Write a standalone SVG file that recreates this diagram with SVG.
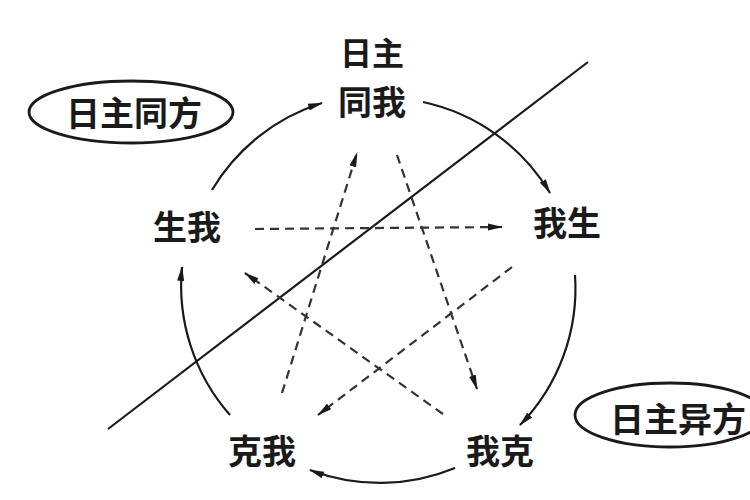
<svg xmlns="http://www.w3.org/2000/svg" width="750" height="500" viewBox="0 0 750 500">
<style>
.lbl{font-family:"Noto Sans CJK SC","Noto Sans CJK JP",sans-serif;font-weight:bold;fill:#1a1a1a;text-anchor:middle}
.big{font-size:34px}
.solid{fill:none;stroke:#1a1a1a;stroke-width:2.2}
.dash{fill:none;stroke:#333;stroke-width:2.2;stroke-dasharray:9 6}
.oval{fill:none;stroke:#1a1a1a;stroke-width:2.8}
</style>
<defs>
<marker id="arr" markerUnits="userSpaceOnUse" markerWidth="16" markerHeight="10" refX="14" refY="5" orient="auto">
<path d="M0,1.5 L15,5 L0,8.5 z" fill="#1a1a1a"/>
</marker>
</defs>
<rect width="750" height="500" fill="#ffffff"/>
<g id="connectors">
<line class="solid" x1="108" y1="429" x2="588" y2="62"/>
<path class="solid" d="M212,190 A196,196 0 0 1 322,103" marker-end="url(#arr)"/>
<path class="solid" d="M423,102 A196,196 0 0 1 550,193" marker-end="url(#arr)"/>
<path class="solid" d="M575,275 A196,196 0 0 1 520,425" marker-end="url(#arr)"/>
<path class="solid" d="M455,468 A196,196 0 0 1 310,470" marker-end="url(#arr)"/>
<path class="solid" d="M230,415 A196,196 0 0 1 182,267" marker-end="url(#arr)"/>
<line class="dash" x1="255" y1="229" x2="502" y2="227" marker-end="url(#arr)"/>
<line class="dash" x1="282" y1="393" x2="357" y2="153" marker-end="url(#arr)"/>
<line class="dash" x1="397" y1="155" x2="477" y2="389" marker-end="url(#arr)"/>
<line class="dash" x1="512" y1="267" x2="318" y2="415" marker-end="url(#arr)"/>
<line class="dash" x1="443" y1="414" x2="245" y2="273" marker-end="url(#arr)"/>
</g>
<g id="node-tongwo">
<text class="lbl" x="372" y="65" font-size="32" font-weight="normal">日主</text>
<text class="lbl big" x="372" y="115">同我</text>
</g>
<g id="node-wosheng"><text class="lbl big" x="567" y="236">我生</text></g>
<g id="node-shengwo"><text class="lbl big" x="187" y="240">生我</text></g>
<g id="node-kewo"><text class="lbl big" x="262" y="464">克我</text></g>
<g id="node-woke"><text class="lbl big" x="500" y="464">我克</text></g>
<g id="node-tongfang">
<ellipse class="oval" cx="131" cy="112" rx="102" ry="31"/>
<text class="lbl big" x="134" y="126">日主同方</text>
</g>
<g id="node-yifang">
<ellipse class="oval" cx="670" cy="415" rx="95" ry="32"/>
<text class="lbl big" x="678" y="432">日主异方</text>
</g>
</svg>
